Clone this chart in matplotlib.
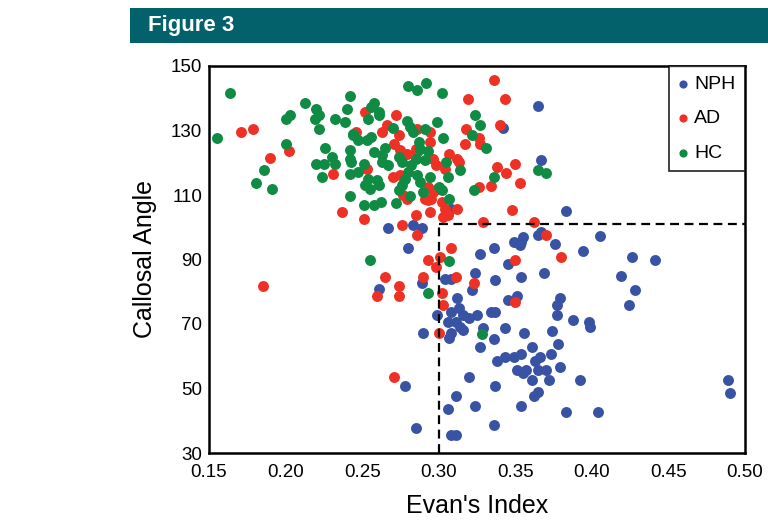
"""
Figure 3 - Evan's Index x Callosal Angle (NPH, AD, HC).
"""

import matplotlib
matplotlib.use("Agg")
import matplotlib.pyplot as plt
from matplotlib.patches import Rectangle

plt.rcParams['font.family'] = ['Liberation Sans', 'DejaVu Sans']

# NPH (azul)
nph_x = [0.308, 0.267, 0.283, 0.289, 0.365, 0.342, 0.367, 0.383, 0.280, 0.261,
         0.289, 0.304, 0.308, 0.327, 0.336, 0.349, 0.354, 0.355, 0.353, 0.365,
         0.367, 0.376, 0.345, 0.354, 0.369, 0.337, 0.324, 0.322, 0.345, 0.351,
         0.312, 0.313, 0.308, 0.316, 0.320, 0.325, 0.311, 0.306, 0.314, 0.316,
         0.299, 0.334, 0.337, 0.329, 0.343, 0.356, 0.374, 0.377, 0.377, 0.379,
         0.290, 0.308, 0.336, 0.307, 0.327, 0.361, 0.378, 0.373, 0.354, 0.349,
         0.343, 0.338, 0.363, 0.366, 0.351, 0.355, 0.357, 0.365, 0.370, 0.379,
         0.361, 0.372, 0.320, 0.337, 0.278, 0.311, 0.362, 0.365, 0.383, 0.306,
         0.324, 0.354, 0.285, 0.336, 0.308, 0.311, 0.398, 0.399, 0.388, 0.392,
         0.404, 0.489, 0.490, 0.405, 0.394, 0.426, 0.441, 0.419, 0.428, 0.424]
nph_y = [105.8, 99.9, 100.6, 99.9, 137.6, 130.7, 120.9, 105.0, 93.7, 80.9,
         82.6, 83.9, 83.9, 91.6, 93.7, 95.5, 95.5, 97.1, 94.5, 97.6,
         98.6, 94.7, 88.5, 84.7, 85.7, 83.6, 85.7, 80.5, 77.4, 78.8,
         78.0, 75.1, 73.8, 72.8, 71.8, 72.8, 70.7, 70.7, 69.2, 68.1,
         72.8, 73.8, 73.8, 68.7, 68.7, 67.1, 67.8, 72.8, 75.9, 78.0,
         67.1, 67.1, 65.4, 65.6, 62.8, 62.8, 63.8, 60.7, 60.7, 59.9,
         59.9, 58.6, 58.6, 59.9, 55.7, 54.7, 55.7, 55.7, 55.7, 56.8,
         52.6, 52.6, 53.7, 50.8, 50.8, 47.8, 47.8, 49.0, 42.8, 43.6,
         44.7, 44.7, 37.8, 38.7, 35.6, 35.6, 70.7, 69.2, 71.2, 52.6,
         42.8, 52.6, 48.7, 97.3, 92.6, 90.8, 89.8, 84.9, 80.5, 75.9]

# AD (vermelho)
ad_x = [0.171, 0.179, 0.202, 0.190, 0.231, 0.237, 0.336, 0.319, 0.252, 0.272,
        0.266, 0.263, 0.246, 0.274, 0.294, 0.294, 0.286, 0.271, 0.275, 0.279,
        0.285, 0.286, 0.296, 0.298, 0.307, 0.312, 0.313, 0.304, 0.270, 0.275,
        0.253, 0.293, 0.296, 0.299, 0.277, 0.279, 0.291, 0.293, 0.295, 0.302,
        0.304, 0.303, 0.306, 0.312, 0.318, 0.317, 0.326, 0.327, 0.326, 0.334,
        0.294, 0.285, 0.276, 0.251, 0.329, 0.343, 0.340, 0.350, 0.344, 0.353,
        0.338, 0.348, 0.286, 0.308, 0.301, 0.293, 0.298, 0.311, 0.290, 0.323,
        0.265, 0.274, 0.274, 0.260, 0.302, 0.303, 0.350, 0.300, 0.362, 0.370,
        0.350, 0.380, 0.185, 0.271]
ad_y = [129.5, 130.6, 123.6, 121.6, 116.6, 104.7, 145.8, 139.7, 135.7, 134.7,
        131.6, 129.5, 129.5, 128.5, 129.5, 126.4, 130.6, 125.9, 123.9, 122.8,
        124.4, 123.3, 121.3, 119.2, 122.8, 121.3, 120.2, 118.2, 115.6, 116.1,
        118.2, 112.5, 110.9, 112.0, 109.9, 108.9, 108.9, 108.4, 108.9, 107.8,
        105.8, 103.2, 103.7, 105.8, 130.6, 125.9, 127.7, 125.9, 112.5, 112.8,
        104.7, 103.7, 100.6, 102.7, 101.6, 139.7, 131.7, 119.6, 116.7, 113.6,
        118.8, 105.4, 97.6, 93.7, 90.9, 89.8, 87.8, 84.7, 84.7, 82.6,
        84.7, 81.8, 78.8, 78.8, 79.5, 75.9, 76.7, 67.1, 101.7, 97.6,
        89.8, 90.7, 81.8, 53.7]

# HC (verde)
hc_x = [0.164, 0.155, 0.213, 0.220, 0.222, 0.219, 0.203, 0.200, 0.222, 0.232,
        0.240, 0.242, 0.239, 0.244, 0.200, 0.226, 0.230, 0.232, 0.220, 0.225,
        0.224, 0.242, 0.242, 0.242, 0.186, 0.181, 0.191, 0.242, 0.280, 0.286,
        0.292, 0.302, 0.258, 0.256, 0.261, 0.261, 0.254, 0.279, 0.281, 0.283,
        0.291, 0.299, 0.270, 0.244, 0.247, 0.253, 0.256, 0.243, 0.258, 0.263,
        0.265, 0.251, 0.263, 0.267, 0.247, 0.254, 0.274, 0.276, 0.287, 0.288,
        0.293, 0.285, 0.282, 0.291, 0.280, 0.278, 0.276, 0.274, 0.286, 0.288,
        0.290, 0.294, 0.260, 0.261, 0.255, 0.252, 0.251, 0.258, 0.262, 0.272,
        0.281, 0.305, 0.314, 0.306, 0.300, 0.302, 0.307, 0.303, 0.324, 0.327,
        0.322, 0.331, 0.323, 0.336, 0.365, 0.370, 0.255, 0.307, 0.293, 0.328]
hc_y = [141.6, 127.7, 138.6, 136.8, 134.7, 133.5, 134.7, 133.7, 130.6, 133.7,
        136.6, 140.7, 132.6, 128.7, 125.8, 124.6, 121.8, 119.7, 119.7, 119.7,
        115.6, 123.9, 121.3, 116.6, 117.7, 113.7, 111.8, 109.6, 143.7, 142.5,
        144.7, 141.6, 138.5, 137.3, 135.7, 134.7, 133.7, 132.9, 131.1, 129.5,
        130.6, 132.6, 130.8, 129.0, 127.0, 127.0, 128.0, 120.2, 123.3, 122.3,
        124.6, 119.7, 120.2, 119.2, 117.1, 115.1, 121.8, 120.2, 126.4, 124.4,
        123.6, 121.3, 119.2, 120.8, 117.1, 115.1, 113.0, 111.5, 116.1, 114.0,
        110.9, 115.6, 114.6, 113.0, 112.0, 113.0, 106.8, 106.8, 107.8, 107.6,
        109.6, 120.2, 117.7, 115.6, 112.5, 111.5, 108.9, 127.7, 134.7, 131.6,
        128.7, 124.6, 111.6, 115.6, 117.8, 116.7, 89.8, 89.6, 79.7, 66.8]

# limiares (linhas tracejadas)
evans_corte = 0.30
angulo_corte = 101

x_ticks = [0.15, 0.20, 0.25, 0.30, 0.35, 0.40, 0.45, 0.50]
y_ticks = [30, 50, 70, 90, 110, 130, 150]

cores = {'NPH': '#3953A4', 'AD': '#EE3124', 'HC': '#108B43'}

fig = plt.figure(figsize=(7.68, 5.23), dpi=100)

# faixa do titulo
fig.patches.append(Rectangle((130 / 768, 1 - 43 / 523), 638 / 768, 35 / 523,
                             transform=fig.transFigure, facecolor='#03616B',
                             edgecolor='none'))
fig.text(148 / 768, 1 - 26 / 523, 'Figure 3', color='white', fontsize=16,
         fontweight='bold', va='center', ha='left',
         family=['Liberation Sans Narrow', 'Liberation Sans', 'DejaVu Sans'])

ax = fig.add_axes([209 / 768, 70 / 523, 536 / 768, 387 / 523])

ax.scatter(nph_x, nph_y, s=62, color=cores['NPH'], label='NPH', linewidths=0)
ax.scatter(ad_x, ad_y, s=62, color=cores['AD'], label='AD', linewidths=0)
ax.scatter(hc_x, hc_y, s=62, color=cores['HC'], label='HC', linewidths=0)

ax.plot([evans_corte, evans_corte], [30, angulo_corte], color='black',
        linestyle=(0, (4, 2.5)), linewidth=1.6, zorder=5)
ax.plot([evans_corte, 0.50], [angulo_corte, angulo_corte], color='black',
        linestyle=(0, (4, 2.5)), linewidth=1.6, zorder=5)

ax.set_xlim(0.15, 0.50)
ax.set_ylim(30, 150)
ax.set_xticks(x_ticks)
ax.set_xticklabels([f'{t:.2f}' for t in x_ticks])
ax.set_yticks(y_ticks)
ax.tick_params(axis='both', length=0, labelsize=13.5)
ax.tick_params(axis='x', pad=8)
ax.tick_params(axis='y', pad=5)

for lado in ['left', 'bottom', 'top', 'right']:
    ax.spines[lado].set_linewidth(1.8)

ax.set_xlabel("Evan's Index", fontsize=18)
ax.set_ylabel('Callosal Angle', fontsize=18)
ax.xaxis.set_label_coords(0.5, -0.107)
ax.yaxis.set_label_coords(-0.097, 0.5)

leg = ax.legend(loc='upper right', borderaxespad=0, fontsize=14,
                frameon=True, fancybox=False, markerscale=0.75,
                handlelength=0.5, handletextpad=0.3, labelspacing=0.85,
                borderpad=0.5, scatterpoints=1)
leg.get_frame().set_edgecolor('black')
leg.get_frame().set_linewidth(1.3)

plt.savefig('out.png', dpi=100)
plt.close()
